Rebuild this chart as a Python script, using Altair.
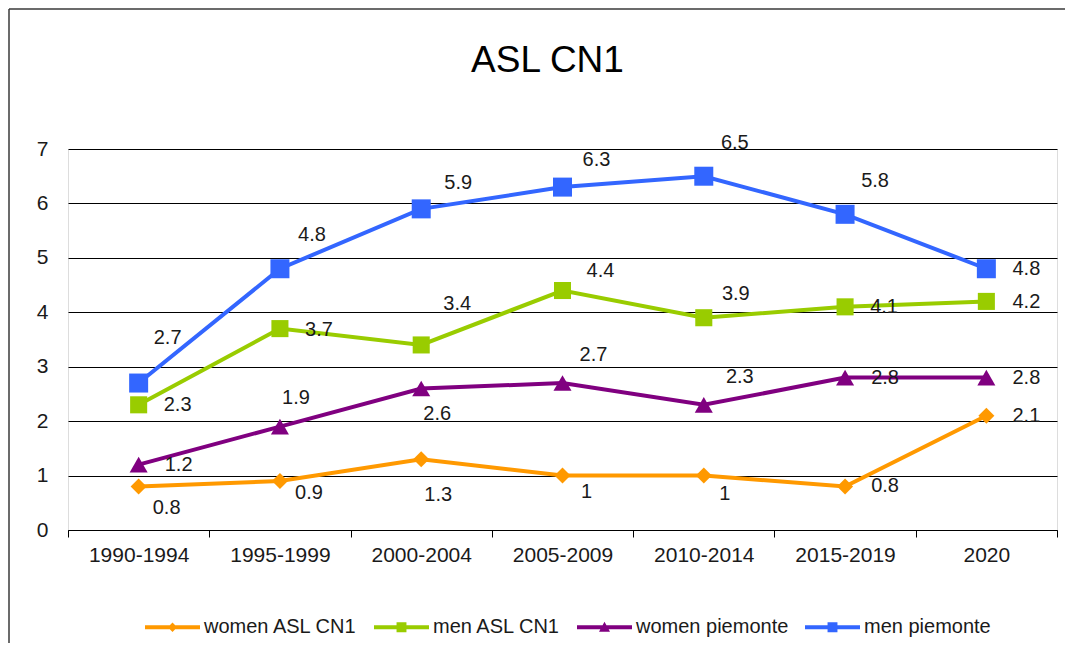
import altair as alt
import pandas as pd

# ---------------- data ----------------
periods = ["1990-1994", "1995-1999", "2000-2004", "2005-2009", "2010-2014", "2015-2019", "2020"]
series_names = ["women ASL CN1", "men ASL CN1", "women piemonte", "men piemonte"]
women_asl_cn1 = [0.8, 0.9, 1.3, 1.0, 1.0, 0.8, 2.1]
men_asl_cn1 = [2.3, 3.7, 3.4, 4.4, 3.9, 4.1, 4.2]
women_piemonte = [1.2, 1.9, 2.6, 2.7, 2.3, 2.8, 2.8]
men_piemonte = [2.7, 4.8, 5.9, 6.3, 6.5, 5.8, 4.8]
y_ticks = [0, 1, 2, 3, 4, 5, 6, 7]
title_text = "ASL CN1"

# ---------------- styles ----------------
colors = ["#FF9900", "#99CC00", "#800080", "#3366FF"]
shapes = ["diamond", "square", "triangle-up", "square"]
sizes = [256, 361, 300, 361]
legend_shapes = [
    "M-1,-0.075L1,-0.075L1,0.075L-1,0.075Z M0,-0.17L0.17,0L0,0.17L-0.17,0Z",
    "M-1,-0.075L1,-0.075L1,0.075L-1,0.075Z M-0.18,-0.18L0.18,-0.18L0.18,0.18L-0.18,0.18Z",
    "M-1,-0.075L1,-0.075L1,0.075L-1,0.075Z M0,-0.2L0.2,0.16L-0.2,0.16Z",
    "M-1,-0.075L1,-0.075L1,0.075L-1,0.075Z M-0.18,-0.18L0.18,-0.18L0.18,0.18L-0.18,0.18Z",
]
# data-label placement (pixel offsets from each point, as Excel placed them)
label_dx = {
    "women ASL CN1": [28, 29, 17, 24, 21, 40, 40],
    "men ASL CN1": [39, 39, 36, 38, 32, 39, 40],
    "women piemonte": [40, 16, 16, 31, 36, 40, 40],
    "men piemonte": [29, 32, 37, 34, 31, 30, 40],
}
label_dy = {
    "women ASL CN1": [22, 12, 36, 16, 18, 0, 0],
    "men ASL CN1": [0, 1, -41, -20, -24, 0, 1],
    "women piemonte": [0, -29, 26, -28, -28, 0, 0],
    "men piemonte": [-45, -34, -26, -27, -33, -33, 0],
}

W, H = 989, 381
PAD_L, PAD_T, PAD_R, PAD_B = 60, 141, 8, 113
FONT = "Liberation Sans"
band_px = W / len(periods)
unit_px = H / 7.0

values_by_series = dict(zip(series_names, [women_asl_cn1, men_asl_cn1, women_piemonte, men_piemonte]))
rows = []
for s in series_names:
    for i, (p, v) in enumerate(zip(periods, values_by_series[s])):
        rows.append({
            "series": s, "lg": s, "period": p, "value": v, "idx": i,
            "label": f"{v:g}",
            "dx": label_dx[s][i], "dy": label_dy[s][i],
        })
df = pd.DataFrame(rows)

x_scale = alt.Scale(type="band", domain=periods, paddingInner=0, paddingOuter=0)
y_scale = alt.Scale(domain=[0, 7], nice=False, zero=True)

x_axis = alt.Axis(title=None, tickBand="extent", labelAngle=0, labelFontSize=21, labelFont=FONT,
                  labelColor="#1a1a1a", tickColor="#000000", tickSize=7, tickWidth=1,
                  domainColor="#000000", domainWidth=1, grid=False, labelPadding=7)
y_axis = alt.Axis(title=None, values=y_ticks, grid=True, gridColor="#000000", gridWidth=1,
                  gridOpacity=1, domain=False, ticks=False, tickSize=0, labelPadding=20,
                  labelFontSize=21, labelFont=FONT, labelColor="#1a1a1a")

base = alt.Chart(df)
color_enc = alt.Color("series:N", scale=alt.Scale(domain=series_names, range=colors), legend=None)
x_enc = alt.X("period:N", scale=x_scale, sort=periods, axis=x_axis)
y_enc = alt.Y("value:Q", scale=y_scale, axis=y_axis)

lines = base.mark_line(strokeWidth=4).encode(x=x_enc, y=y_enc, color=color_enc, detail="series:N")
points = base.mark_point(filled=True, opacity=1, strokeWidth=0).encode(
    x=x_enc, y=y_enc, color=color_enc,
    shape=alt.Shape("series:N", scale=alt.Scale(domain=series_names, range=shapes), legend=None),
    size=alt.Size("series:O", scale=alt.Scale(domain=series_names, range=sizes), legend=None),
)
series_layer = alt.layer(lines, points)

text = base.transform_calculate(
    xl=f"datum.idx + datum.dx / {band_px}",
    yl=f"datum.value - datum.dy / {unit_px}",
).mark_text(fontSize=20, font=FONT, color="#1a1a1a", align="center", baseline="middle").encode(
    x=alt.X("xl:Q", scale=alt.Scale(domain=[-0.5, len(periods) - 0.5], nice=False, zero=False), axis=None),
    y=alt.Y("yl:Q", scale=y_scale, axis=y_axis),
    text="label:N",
)

legend_layer = base.transform_filter("false").mark_point(filled=True, opacity=1, strokeWidth=0).encode(
    color=alt.Color("lg:N", scale=alt.Scale(domain=series_names, range=colors),
                    legend=alt.Legend(orient="none", legendX=77, legendY=H + 97 - 27.5,
                                      direction="horizontal", title=None, symbolSize=3025,
                                      labelFontSize=20, labelFont=FONT, labelColor="#1a1a1a",
                                      labelOffset=4, columnPadding=16, symbolStrokeWidth=0,
                                      padding=0, columns=4, labelLimit=400)),
    shape=alt.Shape("lg:N", scale=alt.Scale(domain=series_names, range=legend_shapes)),
)

frame_data = alt.Data(values=[{"k": 1}])
frame_left = alt.Chart(frame_data).mark_rule(color="#3a3a3a", strokeWidth=1.5).encode(
    x=alt.value(-PAD_L + 1), y=alt.value(-PAD_T + 1), y2=alt.value(H + PAD_B))
frame_top = alt.Chart(frame_data).mark_rule(color="#3a3a3a", strokeWidth=1.5).encode(
    x=alt.value(-PAD_L + 1), x2=alt.value(W + PAD_R), y=alt.value(-PAD_T + 1))

chart = alt.layer(frame_left, frame_top, series_layer, text, legend_layer).resolve_scale(
    x="independent", color="independent", shape="independent"
).properties(
    width=W, height=H,
    autosize=alt.AutoSizeParams(type="none"),
    padding={"left": PAD_L, "top": PAD_T, "right": PAD_R, "bottom": PAD_B},
    title=alt.Title(title_text, fontSize=37, font=FONT, fontWeight="normal", color="#000000",
                    anchor="middle", frame="group", dx=-15, offset=-101, baseline="alphabetic"),
).configure_view(stroke=None).configure(background="white")

chart.save("out.html", embed_options={"renderer": "svg", "actions": False})
